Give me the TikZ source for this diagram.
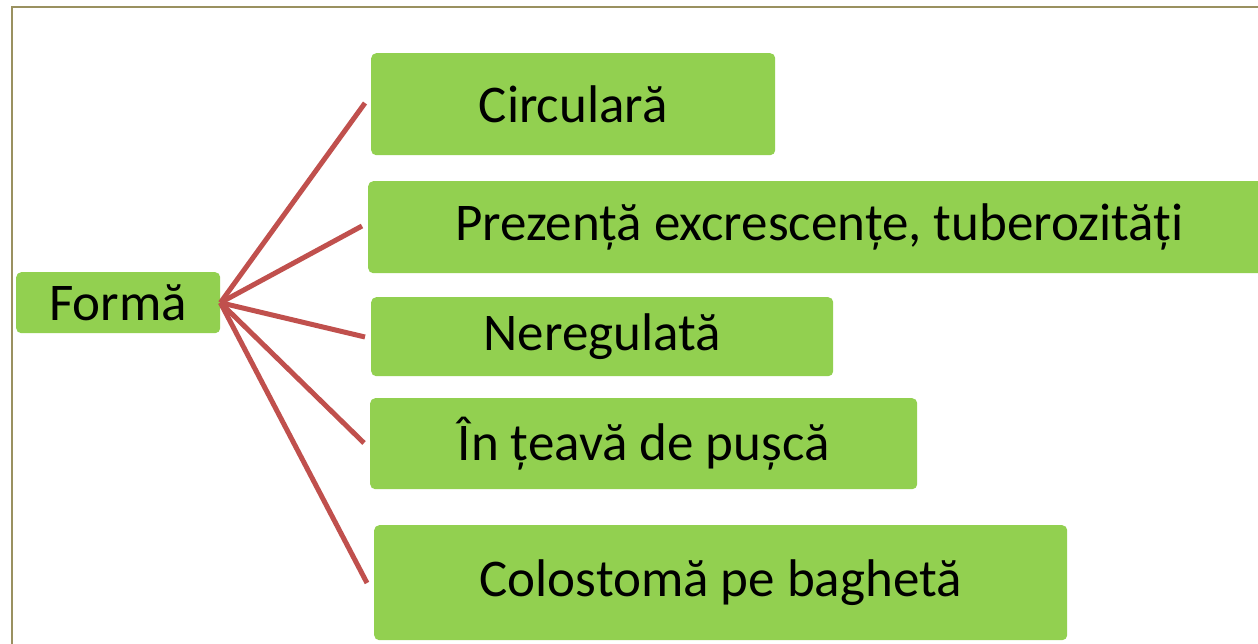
\documentclass[tikz,border=0pt]{standalone}
\usepackage{fontspec}
\setmainfont{Carlito}
\definecolor{boxgreen}{HTML}{92D050}
\definecolor{linkred}{HTML}{C0504D}
\definecolor{frameolive}{HTML}{9A9160}
\begin{document}
\begin{tikzpicture}[x=1pt,y=-1pt,
  leaf/.style={fill=boxgreen,draw=none,rounded corners=5pt,inner sep=0pt,anchor=north west,font=\fontsize{53}{60}\selectfont,text=black},
  link/.style={draw=linkred,line width=5pt}]
\useasboundingbox (0,0) rectangle (1258,644);
\clip (0,0) rectangle (1258,644);
\draw[frameolive,line width=2pt] (12,700) -- (12,7) -- (1300,7);
\node[leaf,minimum width=204pt,minimum height=61pt] (forma) at (16,272) {Formă};
\node[leaf,minimum width=404pt,minimum height=102pt] (b1) at (371,53) {Circulară};
\node[leaf,minimum width=902pt,minimum height=92pt] (b2) at (368,181) {Prezență excrescențe, tuberozități};
\node[leaf,minimum width=462pt,minimum height=79pt] (b3) at (371,297) {Neregulată};
\node[leaf,minimum width=547pt,minimum height=91pt] (b4) at (370,398) {În țeavă de pușcă};
\node[leaf,minimum width=693pt,minimum height=115pt] (b5) at (374,525) {Colostomă pe baghetă};
\coordinate (e1) at (365,103);
\coordinate (e2) at (362,226);
\coordinate (e3) at (365,337);
\coordinate (e4) at (364,443);
\coordinate (e5) at (367,583);
\foreach \e in {e1,e2,e3,e4,e5} \draw[link] (forma.east) -- (\e);
\end{tikzpicture}
\end{document}
